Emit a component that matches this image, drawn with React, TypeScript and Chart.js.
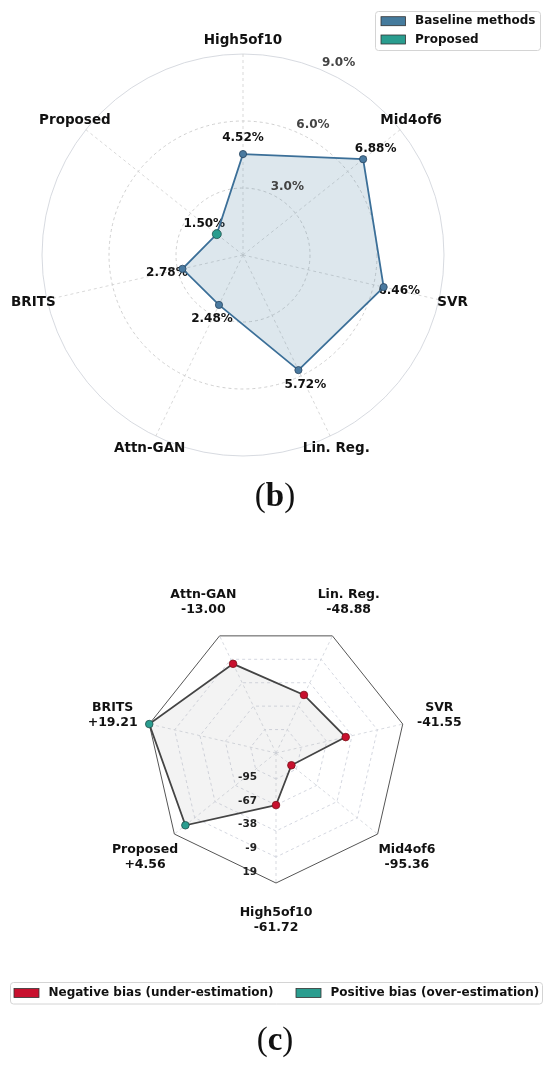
import React, { useEffect, useRef } from "react";
import { Chart, registerables } from "chart.js";

Chart.register(...registerables);

// ---------------- data ----------------
// (b) error per method (%), clockwise from top
const ERROR_LABELS = ["High5of10", "Mid4of6", "SVR", "Lin. Reg.", "Attn-GAN", "BRITS", "Proposed"];
const ERROR_VALUES = [4.52, 6.88, 6.46, 5.72, 2.48, 2.78, 1.5];
const ERROR_TICKS = [3, 6, 9];
const ERROR_MAX = 9;

// (c) bias per method, clockwise from bottom
const BIAS_LABELS = ["High5of10", "Proposed", "BRITS", "Attn-GAN", "Lin. Reg.", "SVR", "Mid4of6"];
const BIAS_VALUES = [-61.72, 4.56, 19.21, -13.0, -48.88, -41.55, -95.36];
const BIAS_TICK_LABELS = ["-95", "-67", "-38", "-9", "19"];
const BIAS_MIN = -115.8;
const BIAS_MAX = 19.21;

const LEGEND_B = ["Baseline methods", "Proposed"];
const LEGEND_C = ["Negative bias (under-estimation)", "Positive bias (over-estimation)"];

// ---------------- style ----------------
const FONT = "'DejaVu Sans', 'Noto Sans', sans-serif";
const BLUE = "#4a7aa0";
const BLUE_LEGEND = "#457b9d";
const TEAL = "#2a9d8f";
const RED = "#c8102e";

function drawText(
  ctx: CanvasRenderingContext2D,
  s: string,
  x: number,
  y: number,
  size: number,
  color: string,
  align: CanvasTextAlign = "center",
  baseline: CanvasTextBaseline = "middle"
) {
  ctx.save();
  ctx.font = `bold ${size}px ${FONT}`;
  ctx.fillStyle = color;
  ctx.textAlign = align;
  ctx.textBaseline = baseline;
  ctx.fillText(s, x, y);
  ctx.restore();
}

function roundBox(ctx: CanvasRenderingContext2D, x: number, y: number, w: number, h: number, r: number) {
  ctx.save();
  ctx.beginPath();
  ctx.moveTo(x + r, y);
  ctx.lineTo(x + w - r, y);
  ctx.arcTo(x + w, y, x + w, y + r, r);
  ctx.lineTo(x + w, y + h - r);
  ctx.arcTo(x + w, y + h, x + w - r, y + h, r);
  ctx.lineTo(x + r, y + h);
  ctx.arcTo(x, y + h, x, y + h - r, r);
  ctx.lineTo(x, y + r);
  ctx.arcTo(x, y, x + r, y, r);
  ctx.closePath();
  ctx.fillStyle = "rgba(255,255,255,0.85)";
  ctx.fill();
  ctx.strokeStyle = "#d4d4d4";
  ctx.lineWidth = 1;
  ctx.stroke();
  ctx.restore();
}

function patch(ctx: CanvasRenderingContext2D, x: number, y: number, w: number, h: number, color: string) {
  ctx.save();
  ctx.fillStyle = color;
  ctx.fillRect(x, y, w, h);
  ctx.strokeStyle = "#333";
  ctx.lineWidth = 0.8;
  ctx.strokeRect(x, y, w, h);
  ctx.restore();
}

const fmtBias = (v: number) => (v > 0 ? `+${v.toFixed(2)}` : v.toFixed(2));

// ---------------- plugins ----------------
const errorPlugin = {
  id: "errorLabels",
  beforeDatasetsDraw(chart: any) {
    const ctx = chart.ctx as CanvasRenderingContext2D;
    const s = chart.scales.r;
    ERROR_VALUES.forEach((v, i) => {
      const p = s.getPointPosition(i, s.getDistanceFromCenterForValue(v) + 16);
      drawText(ctx, `${v.toFixed(2)}%`, p.x, p.y, 12, "#111");
    });
  },
  afterDraw(chart: any) {
    const ctx = chart.ctx as CanvasRenderingContext2D;
    const s = chart.scales.r;
    // category labels
    ERROR_LABELS.forEach((l, i) => {
      const p = s.getPointPosition(i, s.drawingArea + 14);
      drawText(ctx, l, p.x, p.y, 13.5, "#111");
    });
    // radial tick labels at 22.5 deg
    const a = (22.5 * Math.PI) / 180;
    ERROR_TICKS.forEach((t) => {
      const d = s.getDistanceFromCenterForValue(t);
      drawText(ctx, `${t.toFixed(1)}%`, s.xCenter + d * Math.sin(a) + 2, s.yCenter - d * Math.cos(a), 12, "#444", "left", "bottom");
    });
    // legend
    roundBox(ctx, 375.5, 11.5, 165, 39, 3);
    const colors = [BLUE_LEGEND, TEAL];
    LEGEND_B.forEach((l, i) => {
      const cy = 21.2 + i * 18.3;
      patch(ctx, 381, cy - 4.5, 24.5, 9, colors[i]);
      drawText(ctx, l, 415, cy, 12, "#111", "left");
    });
  },
};

const biasPlugin = {
  id: "biasLabels",
  afterDraw(chart: any) {
    const ctx = chart.ctx as CanvasRenderingContext2D;
    const s = chart.scales.r;
    BIAS_LABELS.forEach((l, i) => {
      const p = s.getPointPosition(i, s.drawingArea + 37.5);
      drawText(ctx, l, p.x, p.y - 7.5, 12.5, "#111");
      drawText(ctx, fmtBias(BIAS_VALUES[i]), p.x, p.y + 7.5, 12.5, "#111");
    });
    BIAS_TICK_LABELS.forEach((t, k) => {
      const d = s.getDistanceFromCenterForValue(s.ticks[k + 1].value);
      drawText(ctx, t, s.xCenter - 19, s.yCenter + 0.92 * d, 10.5, "#222", "right");
    });
    // legend
    const cy = 433;
    roundBox(ctx, 10.5, 422.5, 532, 21.5, 3);
    const colors = [RED, TEAL];
    const patchX = [14, 296];
    LEGEND_C.forEach((l, i) => {
      patch(ctx, patchX[i], cy - 4.5, 25, 9, colors[i]);
      drawText(ctx, l, patchX[i] + 34.5, cy, 12, "#111", "left");
    });
  },
};

// ---------------- components ----------------
function ErrorRadar() {
  const ref = useRef<HTMLCanvasElement>(null);
  useEffect(() => {
    if (!ref.current) return;
    const isProp = (l: string) => l === "Proposed";
    const chart = new Chart(ref.current, {
      type: "radar",
      data: {
        labels: ERROR_LABELS,
        datasets: [
          {
            data: ERROR_VALUES,
            borderColor: "#3b6f98",
            borderWidth: 1.8,
            backgroundColor: "rgba(69,123,157,0.18)",
            fill: "start",
            pointBackgroundColor: ERROR_LABELS.map((l) => (isProp(l) ? TEAL : BLUE)),
            pointBorderColor: ERROR_LABELS.map((l) => (isProp(l) ? "#1f4f4a" : "#2a4560")),
            pointBorderWidth: 0.8,
            pointRadius: ERROR_LABELS.map((l) => (isProp(l) ? 4.5 : 3.6)),
          } as any,
        ],
      },
      options: {
        responsive: false,
        animation: false,
        layout: { padding: { left: 42, right: 106, top: 54, bottom: 24 } },
        plugins: { legend: { display: false }, tooltip: { enabled: false } },
        scales: {
          r: {
            min: 0,
            max: ERROR_MAX,
            ticks: { display: false, stepSize: 3 },
            pointLabels: { display: false },
            grid: {
              circular: true,
              color: (c: any) => (c.index === ERROR_TICKS.length ? "#cdd1d8" : "#c4c4c4"),
              lineWidth: 0.8,
            },
            border: { dash: (c: any) => (c.index === ERROR_TICKS.length ? [] : [3, 3]) },
            angleLines: { color: "#cfcfcf", lineWidth: 0.8, borderDash: [3, 3] },
          } as any,
        },
      },
      plugins: [errorPlugin],
    });
    return () => chart.destroy();
  }, []);
  return <canvas ref={ref} width={550} height={480} style={{ position: "absolute", left: 0, top: 0 }} />;
}

function BiasRadar() {
  const ref = useRef<HTMLCanvasElement>(null);
  useEffect(() => {
    if (!ref.current) return;
    const rings = BIAS_TICK_LABELS.length;
    const chart = new Chart(ref.current, {
      type: "radar",
      data: {
        labels: BIAS_LABELS,
        datasets: [
          {
            data: BIAS_VALUES,
            borderColor: "#444",
            borderWidth: 1.8,
            backgroundColor: "rgba(170,170,170,0.14)",
            fill: "start",
            pointBackgroundColor: BIAS_VALUES.map((v) => (v < 0 ? RED : TEAL)),
            pointBorderColor: BIAS_VALUES.map((v) => (v < 0 ? "#7a1018" : "#1f4f4a")),
            pointBorderWidth: 0.8,
            pointRadius: 3.8,
          } as any,
        ],
      },
      options: {
        responsive: false,
        animation: false,
        layout: { padding: { left: 146, right: 144, top: 63, bottom: 137 } },
        plugins: { legend: { display: false }, tooltip: { enabled: false } },
        scales: {
          r: {
            min: BIAS_MIN,
            max: BIAS_MAX,
            startAngle: 180,
            ticks: { display: false },
            afterBuildTicks: (scale: any) => {
              const ticks = [];
              for (let k = 0; k <= rings; k++) ticks.push({ value: BIAS_MIN + ((BIAS_MAX - BIAS_MIN) * k) / rings });
              scale.ticks = ticks;
            },
            pointLabels: { display: false },
            grid: {
              circular: false,
              color: (c: any) => (c.index === rings ? "#555" : "#c9cdd8"),
              lineWidth: (c: any) => (c.index === rings ? 1 : 0.8),
            },
            border: { dash: (c: any) => (c.index === rings ? [] : [3, 3]) },
            angleLines: { color: "#cdd0d8", lineWidth: 0.8, borderDash: [3, 3] },
          } as any,
        },
      },
      plugins: [biasPlugin],
    });
    return () => chart.destroy();
  }, []);
  return <canvas ref={ref} width={550} height={460} style={{ position: "absolute", left: 0, top: 560 }} />;
}

const captionStyle: React.CSSProperties = {
  position: "absolute",
  left: 0,
  width: 550,
  height: 40,
  lineHeight: "40px",
  textAlign: "center",
  fontFamily: "'Liberation Serif', 'DejaVu Serif', serif",
  fontSize: 33,
  color: "#111",
};

export default function App() {
  return (
    <div style={{ position: "absolute", left: 0, top: 0, width: 550, height: 1068, background: "#fff", overflow: "hidden" }}>
      <ErrorRadar />
      <div style={{ ...captionStyle, top: 475 }}>
        (<b>b</b>)
      </div>
      <BiasRadar />
      <div style={{ ...captionStyle, top: 1019 }}>
        (<b>c</b>)
      </div>
    </div>
  );
}
